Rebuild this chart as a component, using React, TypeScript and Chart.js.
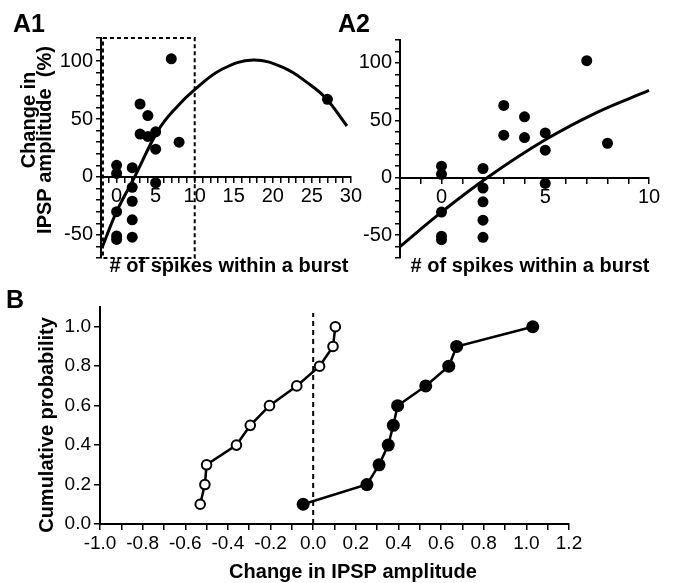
import React, { useEffect, useRef } from "react";
import { Chart, registerables } from "chart.js";

Chart.register(...registerables);

const FONT = "'Liberation Sans', Arial, Helvetica, sans-serif";

// ---------- Panel A data ----------
const burstSpikes = [0, 0, 0, 0, 0, 2, 2, 2, 2, 2, 3, 3, 4, 4, 5, 5, 5, 7, 8];
const ipspChange = [10, 3, -30, -51, -54, 8, -9, -21, -37, -52, 63, 37, 53, 35, 39, 24, -5, 102, 30];
const outlierSpikes = [27];
const outlierChange = [67];
const fitA1X = [-1.8, 0, 2.3, 5.3, 7.5, 10.1, 13.5, 17.5, 21.5, 24.5, 26.8, 29.5];
const fitA1Y = [-60, -30, 0, 40, 59, 76, 93, 101, 94, 81, 68, 44];
const fitA2X = [-2, 0, 2.2, 5, 7.5, 10];
const fitA2Y = [-60, -30, 0, 33, 57, 76];
const zoomBoxX = [-1.75, 10, 10, -1.75, -1.75];
const zoomBoxY = [120, 120, -70, -70, 120];

// ---------- Panel B data ----------
const cumProb = [0.1, 0.2, 0.3, 0.4, 0.5, 0.6, 0.7, 0.8, 0.9, 1.0];
const controlChange = [-0.53, -0.508, -0.5, -0.36, -0.295, -0.205, -0.077, 0.03, 0.093, 0.104];
const burstChange = [-0.047, 0.252, 0.309, 0.352, 0.376, 0.396, 0.528, 0.636, 0.673, 1.03];
const zeroLineX = [0, 0];
const zeroLineY = [0, 1.07];

const pts = (xs: number[], ys: number[]) => xs.map((x, i) => ({ x, y: ys[i] }));

type Place = { cx: number; cy: number };

// hidden scale used only to carry an axis title
function titleScale(pos: "left" | "bottom", text: string, size: number) {
  return {
    type: "linear",
    position: pos,
    min: 0,
    max: 1,
    display: true,
    grid: { display: false },
    border: { display: false },
    ticks: { display: false },
    title: {
      display: true,
      text,
      color: "#000",
      font: { family: FONT, size, weight: "bold", lineHeight: 1.2 },
      padding: 0,
    },
    afterFit: (s: any) => {
      if (pos === "left") s.width = 0;
      else s.height = 0;
    },
  };
}

// plugin that puts the title scales where the reference has their text
function titlePlacer(places: Record<string, Place>) {
  return {
    id: "titlePlacer",
    afterLayout(chart: any) {
      for (const id of Object.keys(places)) {
        const s = chart.scales[id];
        if (!s) continue;
        const { cx, cy } = places[id];
        const lh = s.options.title.font.size * 1.2;
        if (s.options.position === "left") {
          s.left = cx - lh / 2;
          s.right = cx - lh / 2;
          s.top = cy - 150;
          s.bottom = cy + 150;
        } else {
          s.left = cx - 200;
          s.right = cx + 200;
          s.bottom = cy + lh / 2;
          s.top = cy + lh / 2;
        }
      }
    },
  };
}

function axisBase(tickLength = 5) {
  return {
    grid: { display: true, drawOnChartArea: false, drawTicks: true, tickLength, color: "#000", lineWidth: 1.5 },
    border: { display: true, color: "#000", width: 2 },
  };
}

function panelAConfig(opts: {
  xMax: number;
  yWidth: number;
  padTop: number;
  padRight: number;
  yTitles: boolean;
  places: Record<string, Place>;
  datasets: any[];
}) {
  const scales: any = {
    x: {
      type: "linear",
      position: { y: 0 },
      min: -2,
      max: opts.xMax,
      ...axisBase(),
      ticks: {
        stepSize: 1,
        autoSkip: false,
        maxRotation: 0,
        padding: 3,
        color: "#000",
        font: { family: FONT, size: 20 },
        callback: (v: number) => (Math.round(v) % 5 === 0 && v >= 0 ? String(Math.round(v)) : ""),
      },
      afterFit: (s: any) => {
        s.height = 0;
      },
    },
    y: {
      type: "linear",
      position: "left",
      min: -70,
      max: 120,
      ...axisBase(),
      ticks: {
        stepSize: 10,
        autoSkip: false,
        padding: 3,
        color: "#000",
        font: { family: FONT, size: 20 },
        callback: (v: number) => (Math.round(v) % 50 === 0 ? String(Math.round(v)) : ""),
      },
      afterFit: (s: any) => {
        s.width = opts.yWidth;
      },
    },
    tx: titleScale("bottom", "# of spikes within a burst", 20),
  };
  if (opts.yTitles) {
    scales.ty1 = titleScale("left", "Change in", 20);
    scales.ty2 = titleScale("left", "IPSP amplitude  (%)", 20);
  }
  return {
    type: "scatter",
    data: { datasets: opts.datasets },
    options: {
      responsive: false,
      animation: false,
      layout: { padding: { top: opts.padTop, right: opts.padRight, left: 0, bottom: 27 } },
      plugins: { legend: { display: false }, tooltip: { enabled: false } },
      scales,
    },
    plugins: [titlePlacer(opts.places)],
  };
}

function scatterSet(xs: number[], ys: number[]) {
  return {
    data: pts(xs, ys),
    showLine: false,
    pointRadius: 5.5,
    pointBackgroundColor: "#000",
    pointBorderColor: "#000",
    pointBorderWidth: 0,
    clip: false,
  };
}

function fitSet(xs: number[], ys: number[]) {
  return {
    data: pts(xs, ys),
    showLine: true,
    borderColor: "#000",
    borderWidth: 3,
    pointRadius: 0,
    tension: 0.4,
    clip: false,
  };
}

function useChart(ref: React.RefObject<HTMLCanvasElement>, make: () => any) {
  useEffect(() => {
    if (!ref.current) return;
    const chart = new Chart(ref.current, make());
    return () => chart.destroy();
  }, []);
}

const labelStyle = (left: number, top: number): React.CSSProperties => ({
  position: "absolute",
  left,
  top,
  fontFamily: FONT,
  fontWeight: "bold",
  fontSize: 25,
  lineHeight: "25px",
  color: "#000",
});

export default function App() {
  const a1 = useRef<HTMLCanvasElement>(null);
  const a2 = useRef<HTMLCanvasElement>(null);
  const b = useRef<HTMLCanvasElement>(null);

  useChart(a1, () =>
    panelAConfig({
      xMax: 30,
      yWidth: 101,
      padTop: 38,
      padRight: 12,
      yTitles: true,
      places: { tx: { cx: 229, cy: 266 }, ty1: { cx: 29, cy: 120 }, ty2: { cx: 45, cy: 140 } },
      datasets: [
        scatterSet(burstSpikes, ipspChange),
        scatterSet(outlierSpikes, outlierChange),
        fitSet(fitA1X, fitA1Y),
        {
          data: pts(zoomBoxX, zoomBoxY),
          showLine: true,
          borderColor: "#000",
          borderWidth: 2,
          borderDash: [4, 3],
          pointRadius: 0,
          clip: false,
        },
      ],
    })
  );

  useChart(a2, () =>
    panelAConfig({
      xMax: 10,
      yWidth: 60,
      padTop: 40,
      padRight: 24,
      yTitles: false,
      places: { tx: { cx: 190, cy: 266 } },
      datasets: [scatterSet(burstSpikes, ipspChange), fitSet(fitA2X, fitA2Y)],
    })
  );

  useChart(b, () => ({
    type: "scatter",
    data: {
      datasets: [
        {
          data: pts(burstChange, cumProb),
          showLine: true,
          borderColor: "#000",
          borderWidth: 2.5,
          pointRadius: 6.5,
          pointBackgroundColor: "#000",
          pointBorderColor: "#000",
          pointBorderWidth: 0,
          clip: false,
        },
        {
          data: pts(controlChange, cumProb),
          showLine: true,
          borderColor: "#000",
          borderWidth: 2.5,
          pointRadius: 4.8,
          pointBackgroundColor: "#fff",
          pointBorderColor: "#000",
          pointBorderWidth: 2,
          clip: false,
        },
        {
          data: pts(zeroLineX, zeroLineY),
          showLine: true,
          borderColor: "#000",
          borderWidth: 2,
          borderDash: [5, 4],
          pointRadius: 0,
          clip: false,
        },
      ],
    },
    options: {
      responsive: false,
      animation: false,
      layout: { padding: { top: 22, right: 104, left: 0, bottom: 0 } },
      plugins: { legend: { display: false }, tooltip: { enabled: false } },
      scales: {
        x: {
          type: "linear",
          position: "bottom",
          min: -1,
          max: 1.2,
          ...axisBase(6),
          ticks: {
            stepSize: 0.1,
            autoSkip: false,
            maxRotation: 0,
            padding: 2,
            color: "#000",
            font: { family: FONT, size: 19 },
            callback: (v: number) => {
              const k = Math.round(v * 10);
              if (k % 2 !== 0) return "";
              return Math.abs(v) < 1e-9 ? "0.0" : v.toFixed(1);
            },
          },
          afterFit: (s: any) => {
            s.height = 59;
          },
        },
        y: {
          type: "linear",
          position: "left",
          min: 0,
          max: 1.1,
          ...axisBase(6),
          ticks: {
            stepSize: 0.2,
            includeBounds: false,
            padding: 3,
            color: "#000",
            font: { family: FONT, size: 19 },
            callback: (v: number) => v.toFixed(1),
          },
          afterFit: (s: any) => {
            s.width = 100;
          },
        },
        tx: titleScale("bottom", "Change in IPSP amplitude", 20),
        ty: titleScale("left", "Cumulative probability", 20),
      },
    },
    plugins: [titlePlacer({ tx: { cx: 353, cy: 287 }, ty: { cx: 47, cy: 140 } })],
  }));

  return (
    <div style={{ position: "absolute", left: 0, top: 0, width: 673, height: 583, background: "#fff", overflow: "hidden" }}>
      <canvas ref={a1} width={365} height={285} style={{ position: "absolute", left: 0, top: 0 }} />
      <canvas ref={a2} width={333} height={285} style={{ position: "absolute", left: 340, top: 0 }} />
      <canvas ref={b} width={673} height={298} style={{ position: "absolute", left: 0, top: 285 }} />
      <div style={labelStyle(13, 11)}>A1</div>
      <div style={labelStyle(338, 11)}>A2</div>
      <div style={labelStyle(6, 287)}>B</div>
    </div>
  );
}
